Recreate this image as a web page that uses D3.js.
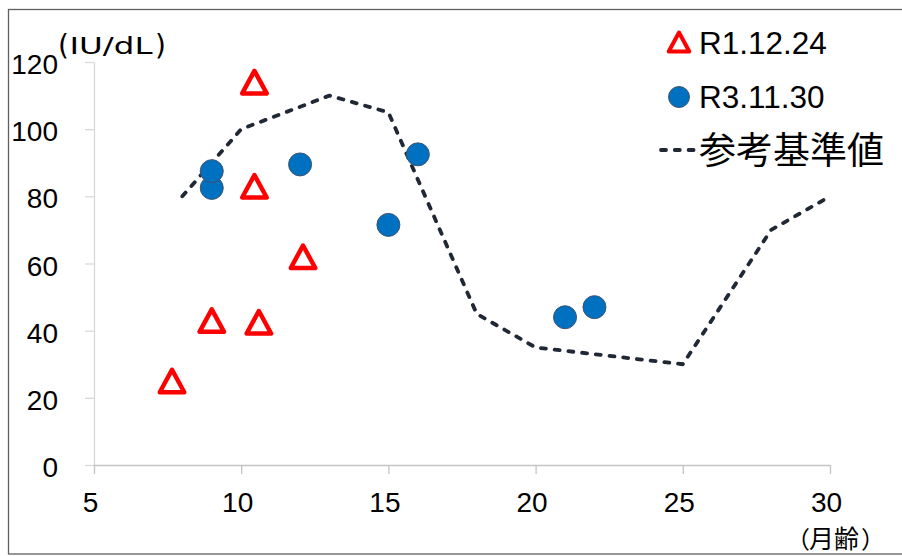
<!DOCTYPE html>
<html>
<head>
<meta charset="utf-8">
<script src="https://cdn.jsdelivr.net/npm/d3@7/dist/d3.min.js"></script>
<style>
  html, body { margin: 0; padding: 0; background: #fff; }
  svg { display: block; }
</style>
</head>
<body>
<svg id="chart" width="902" height="556"></svg>
<script>
// Age in months / activity (IU/dL)
const r1Months = [7.65, 9, 10.6, 12.1, 10.45, 10.45];
const r1Values = [25, 43, 42.5, 62, 83, 114];

const r3Months = [9, 9, 12, 15, 16, 21, 22];
const r3Values = [82.5, 87.5, 89.5, 71.5, 92.5, 44, 47];

const refMonths = [8, 10, 13, 15, 18, 20, 25, 28, 30];
const refValues = [80, 100, 110, 105, 45, 35, 30, 70, 80];

const xTicks = [5, 10, 15, 20, 25, 30];
const yTicks = [0, 20, 40, 60, 80, 100, 120];

const seriesNames = ["R1.12.24", "R3.11.30", "参考基準値"];
const yUnit = "IU/dL";
const xUnit = "月齢";

const svg = d3.select("#chart");

// outer frame
svg.append("rect")
  .attr("x", 8.5).attr("y", 9.5)
  .attr("width", 910).attr("height", 544.5)
  .attr("fill", "none").attr("stroke", "#606060").attr("stroke-width", 1.3);

const x = d3.scaleLinear().domain([5, 30]).range([94, 830]);
const y = d3.scaleLinear().domain([0, 120]).range([465, 62]);

const tickFont = "'Liberation Sans', Arial, sans-serif";
const cjkFont = "'Noto Sans CJK JP', 'Noto Sans', sans-serif";
const unitFont = "'DejaVu Sans', sans-serif";

// y axis
const gy = svg.append("g").attr("transform", "translate(94,0)")
  .call(d3.axisLeft(y).tickValues(yTicks).tickSize(9).tickSizeOuter(0).tickPadding(27));
gy.select(".domain").attr("stroke", "#d9d9d9").attr("stroke-width", 1.3);
gy.selectAll(".tick line").attr("stroke", "#d9d9d9").attr("stroke-width", 1.3);
gy.selectAll(".tick text")
  .attr("font-family", tickFont).attr("font-size", 28).attr("fill", "#000")
  .attr("dy", 11.5);

// x axis
const gx = svg.append("g").attr("transform", "translate(0,465)")
  .call(d3.axisBottom(x).tickValues(xTicks).tickSize(9).tickSizeOuter(0));
gx.select(".domain").attr("stroke", "#c4c4c4").attr("stroke-width", 1.3);
gx.selectAll(".tick line").attr("stroke", "#c4c4c4").attr("stroke-width", 1.3);
gx.selectAll(".tick text")
  .attr("font-family", tickFont).attr("font-size", 28).attr("fill", "#000")
  .attr("y", 47).attr("dy", 0).attr("dx", -4);

// unit label of the value axis
const yl = svg.append("text").attr("fill", "#000");
yl.append("tspan").attr("x", 58).attr("y", 54.5)
  .attr("font-family", unitFont).attr("font-size", 28).text("(");
yl.append("tspan").attr("x", 69.5).attr("y", 54)
  .attr("font-family", unitFont).attr("font-size", 23.5)
  .attr("textLength", 83).attr("lengthAdjust", "spacingAndGlyphs").text(yUnit);
yl.append("tspan").attr("x", 155).attr("y", 54.5)
  .attr("font-family", unitFont).attr("font-size", 28).text(")");

// unit label of the age axis
const xl = svg.append("text").attr("fill", "#000").attr("font-family", cjkFont);
xl.append("tspan").attr("x", 786).attr("y", 548).attr("font-size", 24).text("（");
xl.append("tspan").attr("x", 809).attr("y", 548).attr("font-size", 25).text(xUnit);
xl.append("tspan").attr("x", 861).attr("y", 548).attr("font-size", 24).text("）");

// reference line
const refData = refMonths.map((m, i) => [m, refValues[i]]);
const line = d3.line().x(d => x(d[0])).y(d => y(d[1]));
const lineColor = "#1f2834";
svg.append("path")
  .attr("d", line(refData))
  .attr("fill", "none").attr("stroke", lineColor).attr("stroke-width", 3.8)
  .attr("stroke-dasharray", "5,8.8").attr("stroke-linecap", "round").attr("stroke-linejoin", "round");

// triangle marker shape
const tri = s => `M0,${-11.25 * s} L${12.25 * s},${11.25 * s} L${-12.25 * s},${11.25 * s} Z`;

const r1Data = r1Months.map((m, i) => [m, r1Values[i]]);
svg.append("g").selectAll("path").data(r1Data).join("path")
  .attr("transform", d => `translate(${x(d[0])},${y(d[1])})`)
  .attr("d", tri(1))
  .attr("fill", "#fff").attr("stroke", "#ff0000").attr("stroke-width", 4.5)
  .attr("stroke-linejoin", "round");

const r3Data = r3Months.map((m, i) => [m, r3Values[i]]);
svg.append("g").selectAll("circle").data(r3Data).join("circle")
  .attr("cx", d => x(d[0])).attr("cy", d => y(d[1])).attr("r", 11.5)
  .attr("fill", "#0070c0").attr("stroke", "#3f5470").attr("stroke-width", 1);

// legend
const lg = svg.append("g");
lg.append("path").attr("transform", "translate(679,42)").attr("d", tri(0.84))
  .attr("fill", "#fff").attr("stroke", "#ff0000").attr("stroke-width", 4)
  .attr("stroke-linejoin", "round");
lg.append("circle").attr("cx", 679).attr("cy", 97).attr("r", 10.5)
  .attr("fill", "#0070c0").attr("stroke", "#3f5470").attr("stroke-width", 1);
lg.append("line").attr("x1", 661).attr("x2", 697).attr("y1", 150).attr("y2", 150)
  .attr("stroke", lineColor).attr("stroke-width", 3.8)
  .attr("stroke-dasharray", "5,8.8").attr("stroke-linecap", "round");

lg.append("text").attr("x", 699).attr("y", 54)
  .attr("font-family", tickFont).attr("font-size", 31.5).attr("fill", "#000").text(seriesNames[0]);
lg.append("text").attr("x", 699).attr("y", 108)
  .attr("font-family", tickFont).attr("font-size", 31.5).attr("fill", "#000").text(seriesNames[1]);
lg.append("text").attr("x", 699).attr("y", 164)
  .attr("font-family", cjkFont).attr("font-size", 37).attr("fill", "#000").text(seriesNames[2]);
</script>
</body>
</html>
